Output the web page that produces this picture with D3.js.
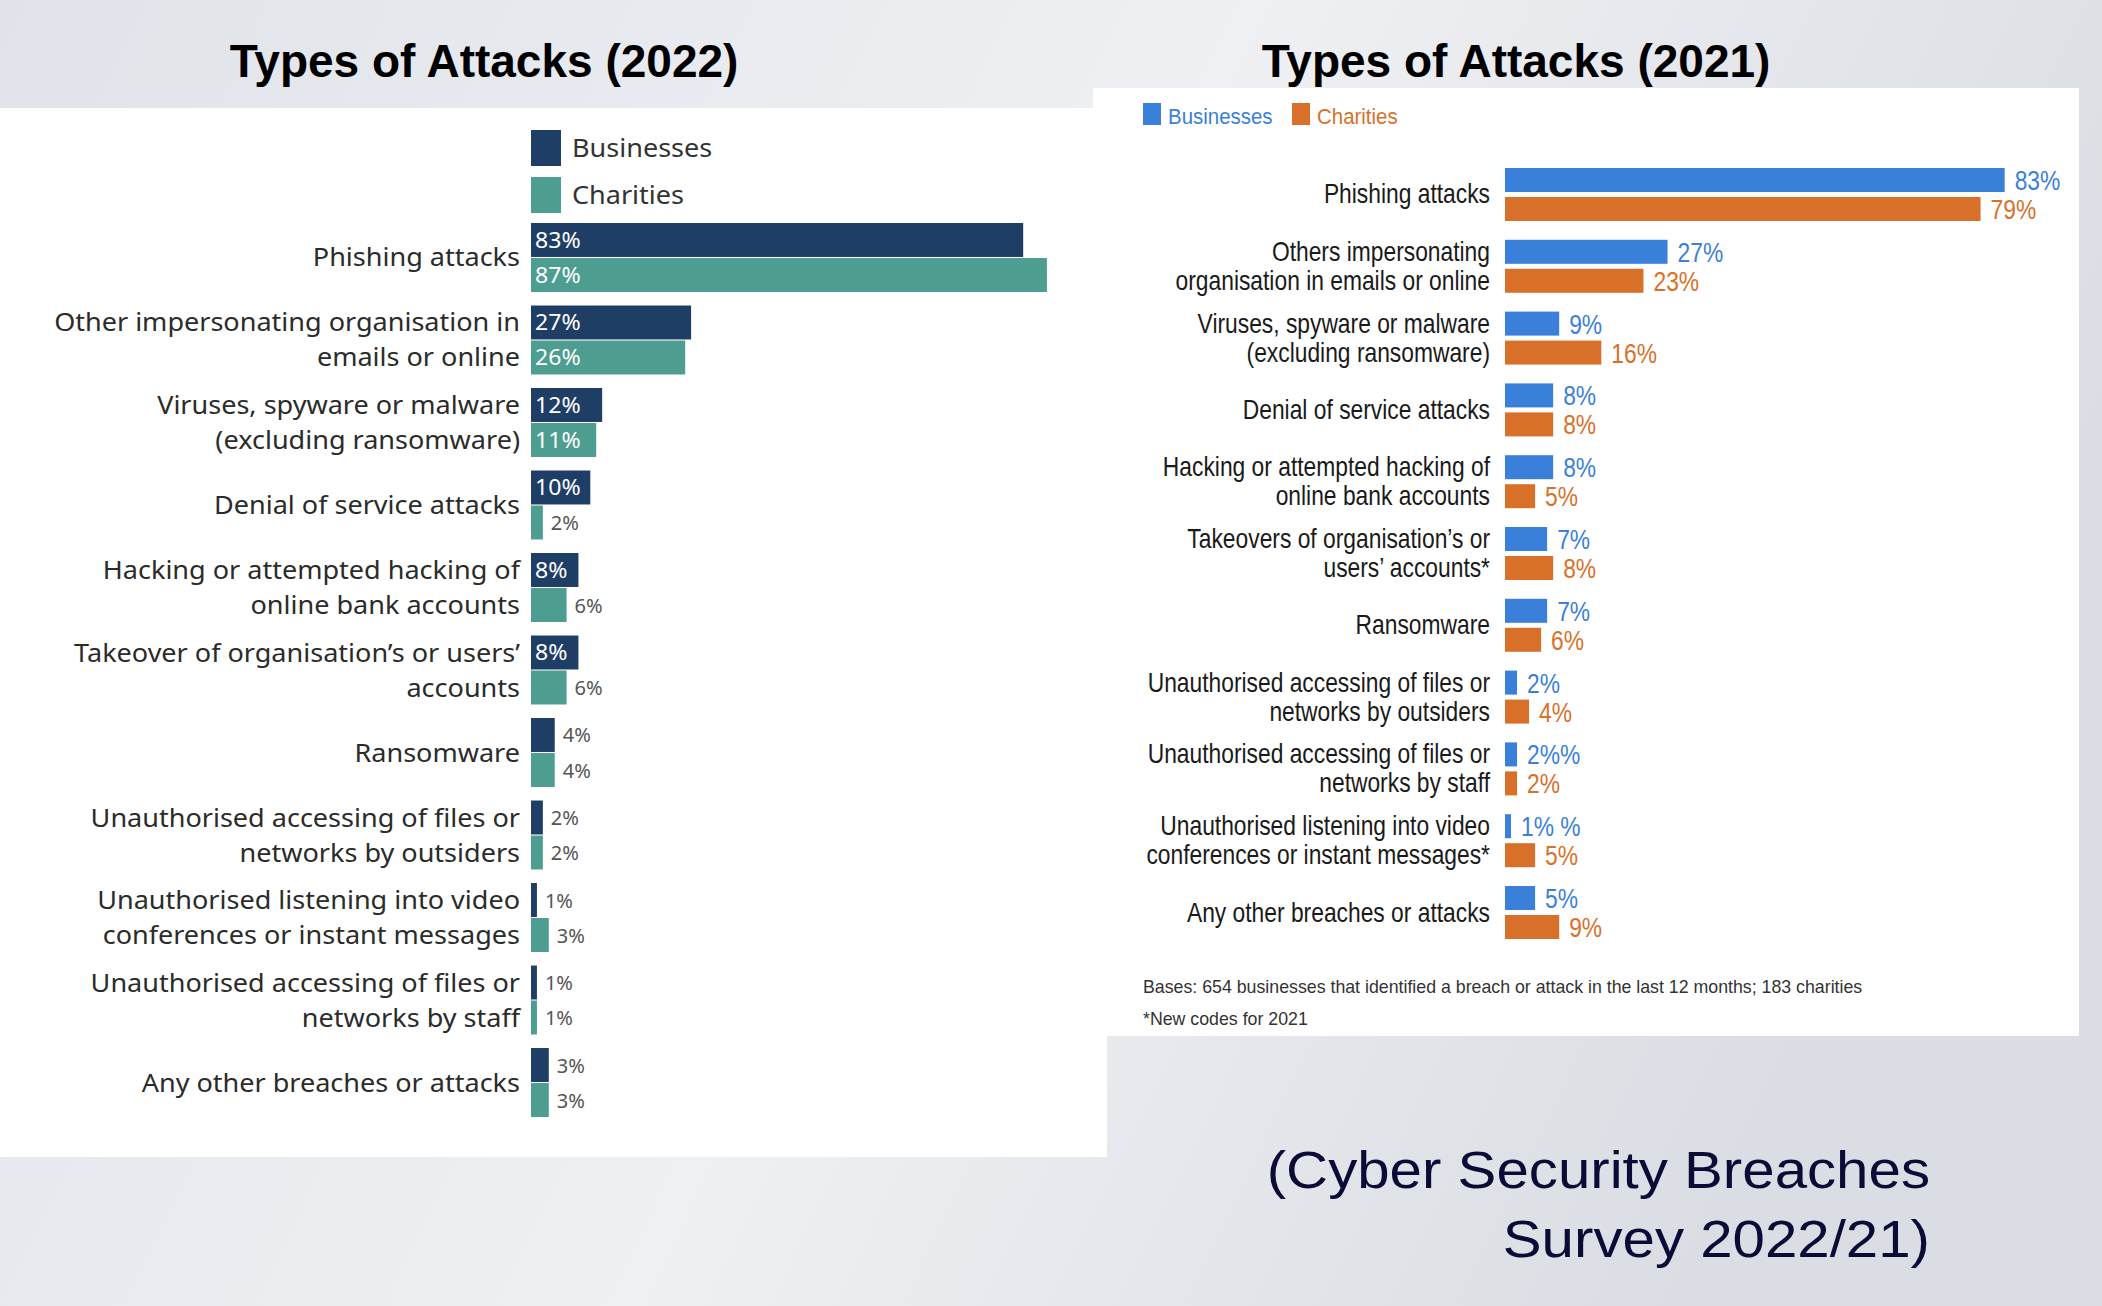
<!DOCTYPE html>
<html><head><meta charset="utf-8">
<script src="https://cdn.jsdelivr.net/npm/d3@7"></script>
<style>html,body{margin:0;padding:0;overflow:hidden;background:#e6e9ee}</style>
</head><body>
<svg id="c" width="2102" height="1306" xmlns="http://www.w3.org/2000/svg"></svg>
<script>
// ---------------- DATA ----------------
const series = ["Businesses", "Charities"];

const cats2022 = [
  "Phishing attacks",
  "Other impersonating organisation in\nemails or online",
  "Viruses, spyware or malware\n(excluding ransomware)",
  "Denial of service attacks",
  "Hacking or attempted hacking of\nonline bank accounts",
  "Takeover of organisation’s or users’\naccounts",
  "Ransomware",
  "Unauthorised accessing of files or\nnetworks by outsiders",
  "Unauthorised listening into video\nconferences or instant messages",
  "Unauthorised accessing of files or\nnetworks by staff",
  "Any other breaches or attacks"
];
const biz2022 = [83, 27, 12, 10, 8, 8, 4, 2, 1, 1, 3];
const char2022 = [87, 26, 11, 2, 6, 6, 4, 2, 3, 1, 3];

const cats2021 = [
  "Phishing attacks",
  "Others impersonating\norganisation in emails or online",
  "Viruses, spyware or malware\n(excluding ransomware)",
  "Denial of service attacks",
  "Hacking or attempted hacking of\nonline bank accounts",
  "Takeovers of organisation’s or\nusers’ accounts*",
  "Ransomware",
  "Unauthorised accessing of files or\nnetworks by outsiders",
  "Unauthorised accessing of files or\nnetworks by staff",
  "Unauthorised listening into video\nconferences or instant messages*",
  "Any other breaches or attacks"
];
const biz2021 = [83, 27, 9, 8, 8, 7, 7, 2, 2, 1, 5];
const char2021 = [79, 23, 16, 8, 5, 8, 6, 4, 2, 5, 9];
const bizLabels2021 = ["83%", "27%", "9%", "8%", "8%", "7%", "7%", "2%", "2%%", "1% %", "5%"];
const charLabels2021 = char2021.map(v => v + "%");

const title2022 = "Types of Attacks (2022)";
const title2021 = "Types of Attacks (2021)";
const footnotes2021 = ["Bases: 654 businesses that identified a breach or attack in the last 12 months; 183 charities", "*New codes for 2021"];
const caption = ["(Cyber Security Breaches", "Survey 2022/21)"];

// ---------------- STYLE ----------------
const C = {
  navy: "#1f3e66", teal: "#4d9d91",
  blue: "#3a7fd9", orange: "#d9702a",
  text: "#2b2b2b"
};
const svg = d3.select("#c");

// background gradient
const defs = svg.append("defs");
const lg = defs.append("linearGradient").attr("id", "bg").attr("x1", "0").attr("y1", "0").attr("x2", "1").attr("y2", "0.3");
lg.append("stop").attr("offset", "0%").attr("stop-color", "#e0e3e9");
lg.append("stop").attr("offset", "55%").attr("stop-color", "#eef0f3");
lg.append("stop").attr("offset", "100%").attr("stop-color", "#dadde3");
svg.append("rect").attr("width", 2102).attr("height", 1306).attr("fill", "url(#bg)");

// white panels
svg.append("rect").attr("x", 0).attr("y", 108).attr("width", 1107).attr("height", 1049).attr("fill", "#fff");
svg.append("rect").attr("x", 1093).attr("y", 88).attr("width", 986).attr("height", 948).attr("fill", "#fff");

// helper for horizontally scaled text
function stext(g, x, y, str, o) {
  return g.append("text")
    .attr("transform", `translate(${x},${y}) scale(${o.sx || 1},1)`)
    .attr("font-family", o.family)
    .attr("font-size", o.size)
    .attr("font-weight", o.weight || "normal")
    .attr("fill", o.fill)
    .attr("text-anchor", o.anchor || "start")
    .text(str);
}

// titles
const tFont = {family: "'Liberation Sans', Arial, sans-serif", size: 46, weight: "bold", fill: "#000", anchor: "middle"};
stext(svg, 484, 77, title2022, tFont);
stext(svg, 1516, 77, title2021, tFont);

// ================= 2022 chart =================
const g22 = svg.append("g");
const x22 = d3.scaleLinear().domain([0, 100]).range([531, 1124]);
const y22 = d3.scaleBand().domain(cats2022).range([223, 1117]).paddingInner(0.164);
const s22 = d3.scaleBand().domain(series).range([0, y22.bandwidth()]).paddingInner(0.03);
const col22 = {Businesses: C.navy, Charities: C.teal};
const F22 = "'Noto Sans', 'Open Sans', sans-serif";
const SX22 = 1.04;

// legend
series.forEach((s, i) => {
  const ly = 130 + i * 47;
  g22.append("rect").attr("x", x22(0)).attr("y", ly).attr("width", 30).attr("height", 36).attr("fill", col22[s]);
  stext(g22, x22(0) + 41, ly + 27, s, {family: F22, size: 26, fill: "#333", sx: SX22});
});

const rows22 = cats2022.map((c, i) => ({cat: c, vals: [biz2022[i], char2022[i]]}));
rows22.forEach(r => {
  const gy = y22(r.cat);
  const cy = gy + y22.bandwidth() / 2;
  const lines = r.cat.split("\n");
  lines.forEach((ln, k) => {
    const lc = cy + (k - (lines.length - 1) / 2) * 35;
    stext(g22, 520, lc + 9, ln, {family: F22, size: 26, fill: C.text, anchor: "end", sx: SX22});
  });
  series.forEach((s, j) => {
    const v = r.vals[j];
    const by = gy + s22(s);
    g22.append("rect").attr("x", x22(0)).attr("y", by).attr("width", x22(v) - x22(0)).attr("height", s22.bandwidth()).attr("fill", col22[s]);
    const bc = by + s22.bandwidth() / 2;
    if (v >= 8) {
      stext(g22, x22(0) + 4, bc + 8, v + "%", {family: F22, size: 22, fill: "#fff", sx: 1.05});
    } else {
      stext(g22, x22(v) + 8, bc + 7.5, v + "%", {family: F22, size: 20, fill: "#555"});
    }
  });
});

// ================= 2021 chart =================
const g21 = svg.append("g");
const x21 = d3.scaleLinear().domain([0, 100]).range([1505, 2107]);
const y21 = d3.scaleBand().domain(cats2021).range([168, 939]).paddingInner(0.262);
const s21 = d3.scaleBand().domain(series).range([0, y21.bandwidth()]).paddingInner(0.172);
const col21 = {Businesses: C.blue, Charities: C.orange};
const F21 = "'Liberation Sans', Arial, sans-serif";
const SX = 0.815;

// legend
const legX = [1143, 1292];
series.forEach((s, i) => {
  g21.append("rect").attr("x", legX[i]).attr("y", 103).attr("width", 18).attr("height", 22).attr("fill", col21[s]);
  stext(g21, legX[i] + 25, 124, s, {family: F21, size: 22, fill: col21[s], sx: 0.93});
});

const rows21 = cats2021.map((c, i) => ({cat: c, vals: [biz2021[i], char2021[i]], labs: [bizLabels2021[i], charLabels2021[i]]}));
rows21.forEach(r => {
  const gy = y21(r.cat);
  const cy = gy + y21.bandwidth() / 2;
  const lines = r.cat.split("\n");
  lines.forEach((ln, k) => {
    const lc = cy + (k - (lines.length - 1) / 2) * 29;
    stext(g21, 1490, lc + 9, ln, {family: F21, size: 28, fill: "#1a1a1a", anchor: "end", sx: SX});
  });
  series.forEach((s, j) => {
    const v = r.vals[j];
    const by = gy + s21(s);
    g21.append("rect").attr("x", x21(0)).attr("y", by).attr("width", x21(v) - x21(0)).attr("height", s21.bandwidth()).attr("fill", col21[s]);
    stext(g21, x21(v) + 10, by + s21.bandwidth() / 2 + 10, r.labs[j], {family: F21, size: 28, fill: col21[s], sx: SX});
  });
});

// footnotes
const fnY = [993, 1025];
footnotes2021.forEach((f, i) => {
  stext(g21, 1143, fnY[i], f, {family: F21, size: 19, fill: "#333", sx: 0.935});
});

// caption
const capY = [1188, 1257];
caption.forEach((c, i) => {
  stext(svg, 1930, capY[i], c, {family: "'Liberation Sans', Arial, sans-serif", size: 52, fill: "#0b0b36", anchor: "end", sx: 1.12});
});
</script>
</body></html>
